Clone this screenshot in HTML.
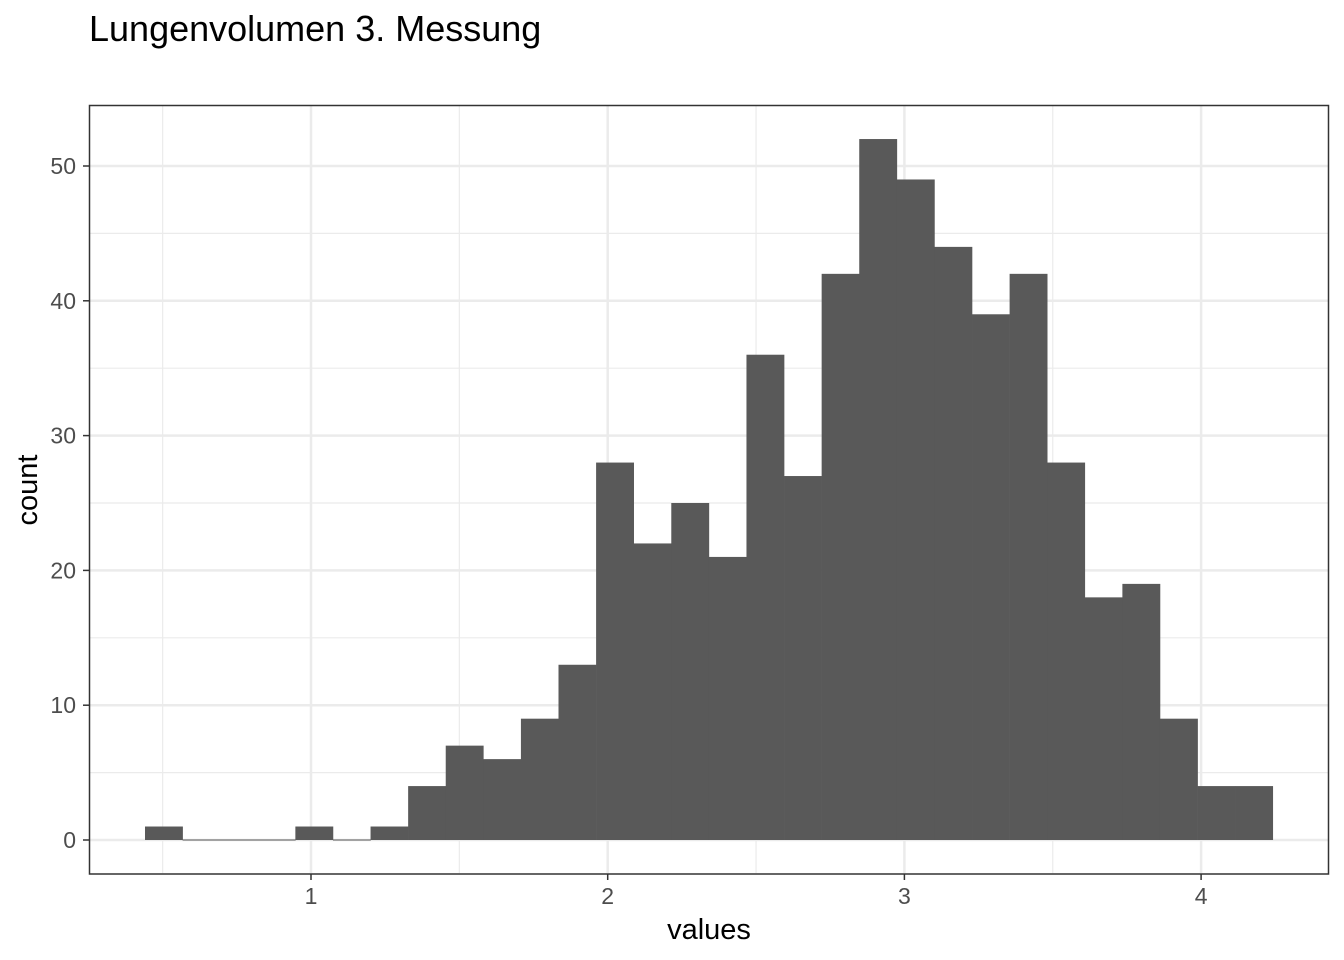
<!DOCTYPE html>
<html><head><meta charset="utf-8"><style>
body{margin:0;background:#fff;}
svg{display:block;font-family:"Liberation Sans",sans-serif;}
</style></head><body>
<svg id="chart" width="1344" height="960">
<text x="89" y="41" font-size="36" fill="#000">Lungenvolumen 3. Messung</text>
<g id="grid"></g><g id="bars"></g><g id="axes"></g>
<rect x="89.5" y="105.5" width="1239" height="768.5" fill="none" stroke="#333" stroke-width="1.5"/>
<text x="709" y="939" font-size="29" text-anchor="middle">values</text>
<text transform="translate(37,490) rotate(-90)" font-size="29" text-anchor="middle">count</text>
</svg>
<script>
const binStart = 0.4405;
const binWidth = 0.1267;
const counts = [1,0,0,0,1,0,1,4,7,6,9,13,28,22,25,21,36,27,42,52,49,44,39,42,28,18,19,9,4,4];
const xTicks = [1,2,3,4];
const xMinor = [0.5,1.5,2.5,3.5];
const yTicks = [0,10,20,30,40,50];
const yMinor = [5,15,25,35,45];
const NS="http://www.w3.org/2000/svg";
const px = v => 311 + (v-1)*296.7;
const py = v => 840 - v*13.48;
const L=90,R=1328,T=106,B=873;
function mk(tag,attrs,parent){const e=document.createElementNS(NS,tag);for(const k in attrs)e.setAttribute(k,attrs[k]);document.getElementById(parent).appendChild(e);return e;}
xMinor.forEach(v=>{const e=mk('line',{x1:px(v),x2:px(v),y1:T,y2:B,stroke:'#ebebeb','stroke-width':1.2},'grid');

});
yMinor.forEach(v=>{const e=mk('line',{x1:L,x2:R,y1:py(v),y2:py(v),stroke:'#ebebeb','stroke-width':1.2},'grid');

});
xTicks.forEach(v=>{const e=mk('line',{x1:px(v),x2:px(v),y1:T,y2:B,stroke:'#ebebeb','stroke-width':2.5},'grid');


const t=mk('line',{x1:px(v),x2:px(v),y1:874,y2:880,stroke:'#333','stroke-width':1.5},'axes');


const l=mk('text',{x:px(v),y:904,'font-size':23,'text-anchor':'middle',fill:'#4d4d4d'},'axes');l.textContent=v;

});
yTicks.forEach(v=>{const e=mk('line',{x1:L,x2:R,y1:py(v),y2:py(v),stroke:'#ebebeb','stroke-width':2.5},'grid');


const t=mk('line',{x1:83,x2:89,y1:py(v),y2:py(v),stroke:'#333','stroke-width':1.5},'axes');


const l=mk('text',{x:76,y:py(v)+8,'font-size':23,'text-anchor':'end',fill:'#4d4d4d'},'axes');l.textContent=v;

});
counts.forEach((c,i)=>{const x0=px(binStart+i*binWidth),x1=px(binStart+(i+1)*binWidth);
const h=Math.max(c*13.48,1);
const r=mk('rect',{x:x0,y:py(0)-h+(c===0?0.5:0),width:x1-x0+0.3,height:h,fill:'#595959'},'bars');

});
</script>
</body></html>
